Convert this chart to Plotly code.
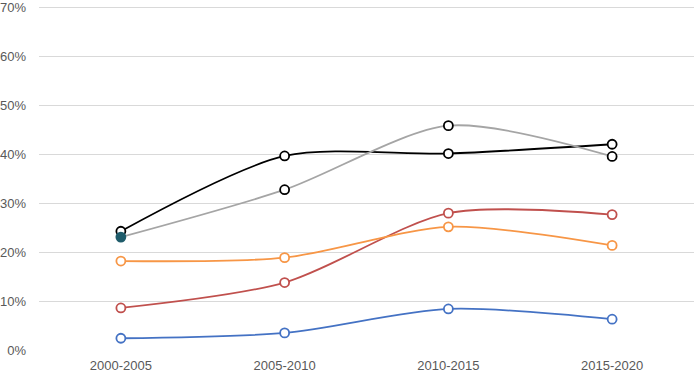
import plotly.graph_objects as go

categories = ["2000-2005", "2005-2010", "2010-2015", "2015-2020"]
blue_vals = [0.024, 0.035, 0.084, 0.063]
red_vals = [0.086, 0.138, 0.280, 0.277]
orange_vals = [0.182, 0.189, 0.252, 0.214]
black_vals = [0.243, 0.397, 0.402, 0.421]
gray_vals = [0.231, 0.328, 0.459, 0.396]
y_ticks = [0, 0.1, 0.2, 0.3, 0.4, 0.5, 0.6, 0.7]

fig = go.Figure()

def add(vals, color, mline=None, fill=None):
    fig.add_trace(go.Scatter(
        x=categories, y=vals, mode="lines+markers",
        line=dict(color=color, width=1.8, shape="spline", smoothing=0.8),
        marker=dict(size=9, symbol="circle",
                    color=fill if fill is not None else "white",
                    line=dict(color=mline if mline is not None else color, width=1.8)),
        showlegend=False, hoverinfo="skip"))

add(blue_vals, "#4472C4")
add(red_vals, "#C0504D")
add(orange_vals, "#F79646")
add(black_vals, "#000000")
add(gray_vals, "#A5A5A5",
    mline=["#1F5C6B", "#000000", "#000000", "#000000"],
    fill=["#1F5C6B", "white", "white", "white"])

fig.update_layout(
    width=694, height=373,
    margin=dict(l=38, r=0, t=1, b=23),
    paper_bgcolor="white", plot_bgcolor="white",
    font=dict(family="Liberation Sans", size=13, color="#595959"),
    xaxis=dict(type="category", range=[-0.5, 3.5], showgrid=False, zeroline=False,
               showline=False, ticks="", ticklabelstandoff=6),
    yaxis=dict(range=[0, 0.71], tickvals=y_ticks, tickformat=".0%", showgrid=True,
               gridcolor="#D9D9D9", gridwidth=1, zeroline=False, showline=False,
               ticks="", ticklabelstandoff=12, ticklabeloverflow="allow"),
)

fig.write_html("out.html",
               config={"displayModeBar": False},
               post_script="document.body.style.margin='0';document.body.style.overflow='hidden';")
